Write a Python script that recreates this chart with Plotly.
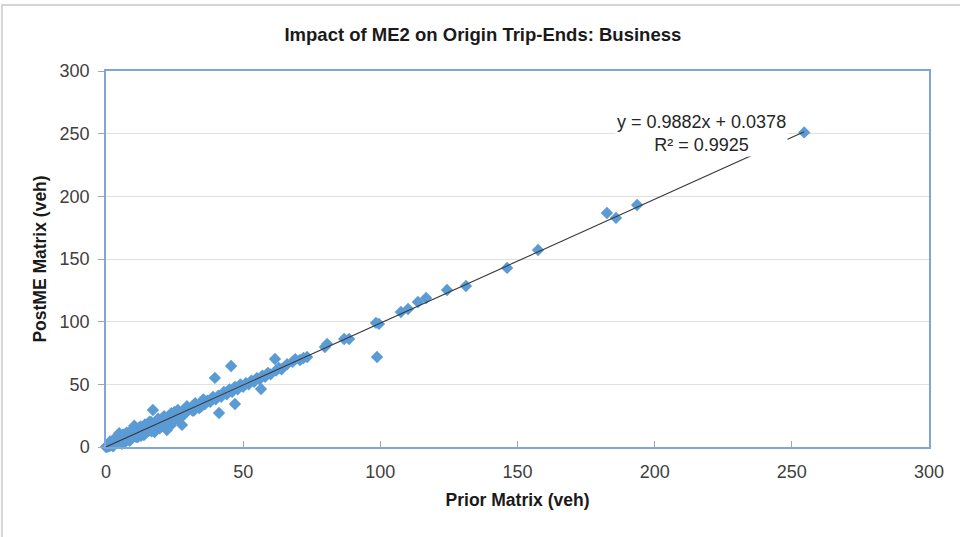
import plotly.graph_objects as go

# Origin trip-ends per zone: prior matrix vs. post-ME matrix (vehicles)
prior_veh = [
    0, 0.2, 0.5, 0.8, 1.0, 1.2, 1.5, 1.8, 2.0, 2.2, 2.5, 2.8, 3.0, 3.2, 3.5, 3.8,
    4.0, 4.2, 4.5, 4.8, 5.0, 5.3, 5.6, 6.0, 6.3, 6.6, 7.0, 7.3, 7.7, 8.0, 8.3, 8.7,
    9.0, 9.4, 9.8, 10.0, 10.3, 10.6, 11.0, 11.4, 11.8, 12.0, 12.4, 12.8, 13.2, 13.6,
    14.0, 14.4, 14.8, 15.2, 15.6, 16.0, 16.4, 16.8, 17.1, 17.3, 17.7, 18.0, 18.4,
    18.8, 19.2, 19.6, 20.0, 20.5, 21.0, 21.5, 22.0, 22.2, 22.6, 23.0, 23.5, 24.0,
    24.5, 25.0, 25.5, 26.0, 26.5, 27.0, 27.7, 28.0, 28.5, 29.0, 30.0, 31.0, 32.0,
    33.0, 34.0, 35.0, 36.0, 37.0, 38.0, 39.0, 39.7, 40.0, 41.0, 41.2, 42.0, 43.0,
    44.0, 45.0, 45.6, 46.0, 47.0, 47.0, 48.0, 49.0, 50.0, 51.0, 52.0, 53.0, 54.0,
    55.0, 56.0, 56.5, 57.0, 58.0, 59.0, 60.0, 61.6, 62.0, 63.0, 64.0, 66.0, 68.0,
    69.0, 70.7, 72.0, 73.3, 79.8, 80.6, 86.8, 88.6, 98.4, 98.8, 99.5, 107.5, 110.1,
    113.7, 116.7, 124.3, 131.2, 146.2, 157.5, 182.6, 185.9, 193.6, 254.5,
    1.5, 3.0, 4.6, 6.2, 7.5, 9.2, 10.8, 12.6, 14.2, 15.8, 19.0, 21.2, 23.8, 26.2,
    29.5, 32.5, 35.5, 2.6, 5.8, 8.6, 11.6, 13.8, 16.6, 20.3, 24.8, 27.5, 31.5, 34.5,
]
post_veh = [
    0, 0.5, 0.3, 1.2, 0.6, 2.0, 1.0, 2.5, 1.5, 3.0, 2.0, 4.0, 2.5, 5.0, 3.0, 6.0,
    3.5, 8.0, 4.0, 11.0, 5.5, 3.5, 7.0, 5.0, 9.0, 6.0, 7.5, 4.5, 9.0, 7.0, 11.0, 8.0,
    6.0, 10.0, 13.0, 9.0, 17.0, 11.0, 8.0, 12.0, 15.0, 10.0, 13.0, 9.0, 14.0, 12.0,
    16.0, 11.0, 14.0, 18.0, 13.0, 15.0, 20.0, 14.0, 29.5, 17.0, 12.0, 19.0, 16.0,
    21.0, 18.0, 15.0, 20.0, 23.0, 18.0, 21.0, 19.0, 13.6, 24.0, 21.0, 17.0, 25.0,
    22.0, 28.0, 24.0, 26.0, 22.0, 27.0, 17.6, 29.0, 26.0, 28.0, 30.0, 31.0, 29.0,
    33.0, 31.0, 35.0, 34.0, 37.0, 36.0, 40.0, 55.1, 38.0, 41.0, 27.1, 40.0, 44.0,
    42.0, 46.0, 64.6, 44.0, 34.3, 48.0, 46.0, 50.0, 48.0, 51.0, 50.0, 53.0, 52.0,
    55.0, 54.0, 46.3, 57.0, 56.0, 59.0, 58.0, 70.2, 61.0, 63.0, 62.0, 66.0, 68.0,
    70.0, 69.4, 71.0, 71.8, 79.8, 82.2, 86.2, 86.2, 99.0, 71.8, 98.2, 107.7, 110.1,
    115.7, 118.9, 125.3, 128.5, 142.9, 157.2, 186.7, 182.8, 193.1, 251.0,
    4.5, 6.5, 8.5, 10.0, 11.5, 13.5, 14.5, 16.5, 18.0, 20.0, 22.5, 24.5, 27.0, 29.5,
    32.5, 35.0, 38.0, 0.5, 2.5, 5.0, 8.0, 9.5, 12.5, 16.5, 21.0, 24.0, 29.0, 32.0,
]

# Linear trendline reported for the series
slope = 0.9882
intercept = 0.0378
r_squared = 0.9925

axis_ticks = [0, 50, 100, 150, 200, 250, 300]

trend_x = [0, max(prior_veh)]
trend_y = [slope * v + intercept for v in trend_x]

fig = go.Figure()

fig.add_trace(go.Scatter(
    x=prior_veh, y=post_veh, mode="markers",
    marker=dict(symbol="diamond", size=9.5, color="#5B9BD5", line=dict(width=0)),
    cliponaxis=False, showlegend=False,
))

fig.add_trace(go.Scatter(
    x=trend_x, y=trend_y, mode="lines",
    line=dict(color="#3A3A3A", width=1.1),
    showlegend=False,
))

font_family = "Liberation Sans, Arial, sans-serif"

fig.add_annotation(
    x=217, y=250, xref="x", yref="y",
    text=f"y = {slope:.4f}x + {intercept:.4f}<br>R² = {r_squared:.4f}",
    showarrow=False, align="center", bgcolor="white",
    font=dict(family=font_family, size=18, color="#262626"),
)

# outer chart frame
fig.add_shape(
    type="rect", xref="paper", yref="paper",
    x0=-0.1264, x1=1.2, y0=-0.4, y1=1.1755,
    line=dict(color="#C8C8C8", width=1.5), layer="below",
)

fig.update_layout(
    width=960, height=537,
    margin=dict(l=106, r=31, t=71, b=90),
    paper_bgcolor="white", plot_bgcolor="white",
    title=dict(
        text="<b>Impact of ME2 on Origin Trip-Ends: Business</b>",
        x=0.503, xanchor="center", y=0.935, yanchor="middle",
        font=dict(family=font_family, size=18.5, color="#1a1a1a"),
    ),
    font=dict(family=font_family, color="#404040"),
)

fig.update_xaxes(
    range=[0, 300], tickvals=axis_ticks, ticktext=[str(t) for t in axis_ticks],
    showgrid=False, zeroline=False,
    showline=True, linecolor="#7EA6D6", linewidth=1.5, mirror=True,
    ticks="inside", ticklen=6, tickcolor="#A6A6A6",
    ticklabelstandoff=8,
    tickfont=dict(family=font_family, size=18, color="#404040"),
    title=dict(text="<b>Prior Matrix (veh)</b>", standoff=12,
               font=dict(family=font_family, size=17.5, color="#1a1a1a")),
)

fig.update_yaxes(
    range=[0, 300], tickvals=axis_ticks, ticktext=[str(t) for t in axis_ticks],
    showgrid=True, gridcolor="#E0E0E0", gridwidth=1, zeroline=False,
    showline=True, linecolor="#7EA6D6", linewidth=1.5, mirror=True,
    ticks="outside", ticklen=6, tickcolor="#A6A6A6",
    ticklabelstandoff=5,
    tickfont=dict(family=font_family, size=18, color="#404040"),
    title=dict(text="<b>PostME Matrix (veh)</b>", standoff=8,
               font=dict(family=font_family, size=17.5, color="#1a1a1a")),
)

fig.write_html("out.html")
